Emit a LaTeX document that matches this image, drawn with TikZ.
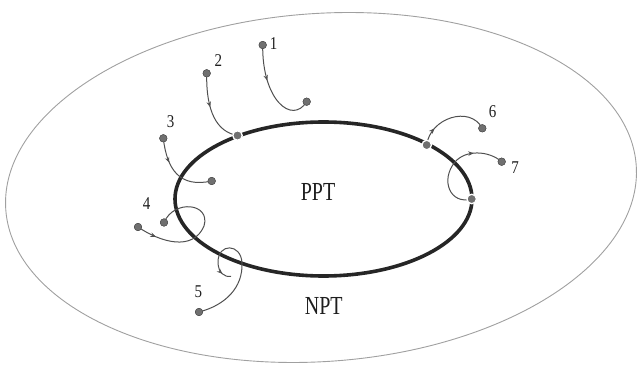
\documentclass[tikz,border=0pt]{standalone}
\usepackage{graphicx}
\usepackage{fontspec}
\setmainfont{Liberation Serif}
\usetikzlibrary{arrows.meta,decorations.markings}
\definecolor{outerc}{HTML}{A0A0A0}
\definecolor{ringc}{HTML}{262626}
\definecolor{pathc}{HTML}{505050}
\definecolor{dotc}{HTML}{707070}
\definecolor{txtc}{HTML}{1E1E1E}
\tikzset{
  dotnode/.style={circle,fill=dotc,draw=dotc!70!black,line width=0.4pt,inner sep=0pt,minimum size=7.5pt},
  junction/.style={circle,fill=dotc,draw=white,line width=1.3pt,inner sep=0pt,minimum size=9.5pt},
  trail/.style={draw=pathc,line width=1pt},
  arrowat/.style={postaction={decorate},decoration={markings,mark=at position #1 with {\arrow[pathc]{Stealth[length=5.5pt,width=4.5pt]}}}},
  numlabel/.style={text=txtc,inner sep=0pt,font=\fontsize{15}{15}\selectfont},
  biglabel/.style={text=txtc,inner sep=0pt,font=\fontsize{20}{20}\selectfont}
}
\newcommand{\tallnum}[1]{\scalebox{1}[1.2]{#1}}
\newcommand{\talltxt}[1]{\scalebox{1}[1.3]{#1}}
\begin{document}
\begin{tikzpicture}[x=1pt,y=-1pt]
\useasboundingbox (0,0) rectangle (637,371);
% outer ellipse
\draw[outerc,line width=0.9pt,rotate around={4:(321,187.5)}] (321,187.5) ellipse [x radius=316, y radius=174];
% inner thick ellipse
\draw[ringc,line width=3.6pt] (323.5,199) ellipse [x radius=148.5, y radius=77];
% texts
\node[biglabel] (ppt) at (318,192) {\talltxt{PPT}};
\node[biglabel] (npt) at (323.7,306) {\talltxt{NPT}};
% dots
\node[dotnode] (s1) at (262.7,45) {};
\node[dotnode] (e1) at (306.7,101.7) {};
\node[dotnode] (s2) at (206.7,73.3) {};
\node[dotnode] (s3) at (163.3,138.3) {};
\node[dotnode] (e3) at (211.7,181) {};
\node[dotnode] (s4) at (138,227) {};
\node[dotnode] (e4) at (164,222.5) {};
\node[dotnode] (s5) at (199,312) {};
\node[dotnode] (e6) at (482.3,128.3) {};
\node[dotnode] (e7) at (501.7,161.7) {};
\coordinate (e5) at (231,276.5);
% trails
\path[trail,arrowat=0.38] (s1.center) .. controls (262,100) and (292,125) .. (e1.center);
\path[trail,arrowat=0.45] (s2.center) .. controls (206,112) and (217,132) .. (237.5,135.5) coordinate (j2);
\path[trail,arrowat=0.33] (s3.center) .. controls (167,170) and (180,188) .. (e3.center);
\path[trail,arrowat=0.15] (s4.center) .. controls (160,242) and (193,252) .. (204,226) .. controls (211,203) and (174,199) .. (e4.center);
\path[trail,arrowat=0.93] (s5.center) .. controls (226,305) and (243,287) .. (242,263) .. controls (241,243) and (218,243) .. (218,262) .. controls (218,273) and (225,277.5) .. (e5);
\path[trail,arrowat=0.25] (426.7,145) coordinate (j6) .. controls (430,118) and (470,105) .. (e6.center);
\path[trail,arrowat=0.72] (471.7,199) coordinate (j7) .. controls (450,205) and (440,180) .. (455,162) .. controls (465,150) and (488,150) .. (e7.center);
% redraw dots on top
\node[dotnode] at (s1) {};
\node[dotnode] at (e1) {};
\node[dotnode] at (s2) {};
\node[dotnode] at (s3) {};
\node[dotnode] at (e3) {};
\node[dotnode] at (s4) {};
\node[dotnode] at (e4) {};
\node[dotnode] at (s5) {};
\node[dotnode] at (e6) {};
\node[dotnode] at (e7) {};
\node[junction] (jn2) at (j2) {};
\node[junction] (jn6) at (j6) {};
\node[junction] (jn7) at (j7) {};
% number labels
\node[numlabel] (l1) at (273.5,43.5) {\tallnum{1}};
\node[numlabel] (l2) at (218.3,61) {\tallnum{2}};
\node[numlabel] (l3) at (170.5,121.5) {\tallnum{3}};
\node[numlabel] (l4) at (146.7,204) {\tallnum{4}};
\node[numlabel] (l5) at (198.3,291.7) {\tallnum{5}};
\node[numlabel] (l6) at (492.5,111.5) {\tallnum{6}};
\node[numlabel] (l7) at (515,168) {\tallnum{7}};
\end{tikzpicture}
\end{document}
